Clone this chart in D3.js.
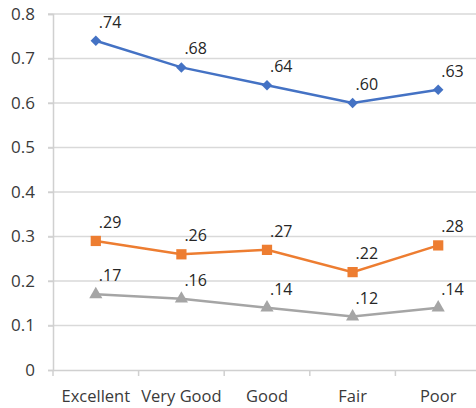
<!DOCTYPE html>
<html>
<head>
<meta charset="utf-8">
<script src="https://cdn.jsdelivr.net/npm/d3@7"></script>
<style>
  body { margin: 0; background: #fff; }
  svg { display: block; }
</style>
</head>
<body>
<svg id="chart"></svg>
<script>
const width = 476, height = 408;

const categories = ['Excellent', 'Very Good', 'Good', 'Fair', 'Poor'];
const blueValues = [0.74, 0.68, 0.64, 0.60, 0.63];
const orangeValues = [0.29, 0.26, 0.27, 0.22, 0.28];
const greyValues = [0.17, 0.16, 0.14, 0.12, 0.14];
const yTicks = [0, 0.1, 0.2, 0.3, 0.4, 0.5, 0.6, 0.7, 0.8];

const margin = { top: 14, left: 53, bottom: 38 };
const plotRight = 481; // chart is cropped on the right

const svg = d3.select('#chart').attr('width', width).attr('height', height);

const x = d3.scaleBand().domain(categories).range([margin.left, plotRight]);
const y = d3.scaleLinear().domain([0, 0.8]).range([height - margin.bottom, margin.top]);

const font = '"Open Sans", sans-serif';

// gridlines
svg.append('g')
    .selectAll('line')
    .data(yTicks.slice(1))
    .join('line')
    .attr('x1', margin.left - 5)
    .attr('x2', plotRight)
    .attr('y1', (d) => y(d))
    .attr('y2', (d) => y(d))
    .attr('stroke', '#d9d9d9')
    .attr('stroke-width', 1.5);

// y axis
const yAxis = svg.append('g')
    .attr('transform', `translate(${margin.left},0)`)
    .call(d3.axisLeft(y).tickValues(yTicks).tickSize(5).tickPadding(13)
        .tickFormat((d) => (d === 0 ? '0' : d3.format('.1f')(d))));
yAxis.select('.domain').attr('stroke', '#d0d0d0').attr('stroke-width', 1.5);
yAxis.selectAll('.tick line').attr('stroke', '#d0d0d0').attr('stroke-width', 1.5);
yAxis.selectAll('text')
    .attr('fill', '#3a3a3a')
    .style('font-family', font)
    .style('font-size', '17px');

// x axis
const xAxis = svg.append('g')
    .attr('transform', `translate(0,${y(0)})`)
    .call(d3.axisBottom(x).tickSize(0).tickPadding(20));
xAxis.select('.domain').attr('stroke', '#d0d0d0').attr('stroke-width', 1.5);
xAxis.selectAll('text')
    .attr('fill', '#3a3a3a')
    .style('font-family', font)
    .style('font-size', '16.5px');

// band boundary ticks
svg.append('g')
    .selectAll('line')
    .data(categories)
    .join('line')
    .attr('x1', (d) => x(d))
    .attr('x2', (d) => x(d))
    .attr('y1', y(0))
    .attr('y2', y(0) + 6)
    .attr('stroke', '#d0d0d0')
    .attr('stroke-width', 1.5);

const cx = (d, i) => x(categories[i]) + x.bandwidth() / 2;

function drawSeries(values, color, symbol, size, rotate) {
    const g = svg.append('g');
    const line = d3.line().x((d, i) => cx(d, i)).y((d) => y(d));

    g.append('path')
        .datum(values)
        .attr('fill', 'none')
        .attr('stroke', color)
        .attr('stroke-width', 2.5)
        .attr('d', line);

    g.selectAll('.marker')
        .data(values)
        .join('path')
        .attr('class', 'marker')
        .attr('transform', (d, i) => `translate(${cx(d, i)},${y(d)}) rotate(${rotate})`)
        .attr('d', d3.symbol().type(symbol).size(size))
        .attr('fill', color);

    g.selectAll('.label')
        .data(values)
        .join('text')
        .attr('class', 'label')
        .attr('x', (d, i) => cx(d, i) + 3)
        .attr('y', (d) => y(d) - 13)
        .attr('fill', '#262626')
        .style('font-family', font)
        .style('font-size', '16px')
        .text((d) => d3.format('.2f')(d).replace(/^0/, ''));
}

drawSeries(blueValues, '#4472c4', d3.symbolSquare, 55, 45);
drawSeries(orangeValues, '#ed7d31', d3.symbolSquare, 105, 0);
drawSeries(greyValues, '#a5a5a5', d3.symbolTriangle, 75, 0);
</script>
</body>
</html>
